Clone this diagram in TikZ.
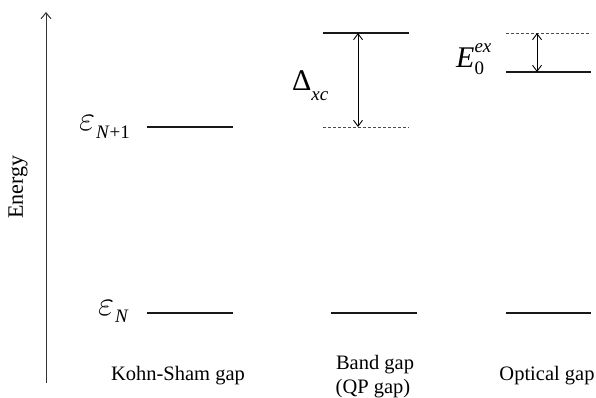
\documentclass[tikz,border=0pt]{standalone}
\usepackage{fontspec}
\setmainfont{Liberation Serif}
\usetikzlibrary{arrows.meta}
\tikzset{
  level/.style={line width=1.9pt, black!90},
  ghost/.style={line width=0.7pt, dashed, dash pattern=on 3pt off 2pt, black!70},
  gaparrow/.style={line width=0.9pt, {Straight Barb[length=6pt,width=9pt]}-{Straight Barb[length=6pt,width=9pt]}},
  axis/.style={line width=1pt, black!80, -{Straight Barb[length=6pt,width=10pt]}},
  lbl/.style={font=\fontsize{20.5}{24}\selectfont, inner sep=0pt},
  sym/.style={font=\fontsize{30}{32}\selectfont, inner sep=0pt}
}
\newcommand{\subsz}{\fontsize{19}{19}\selectfont}
\newcommand{\epsglyph}{\resizebox{16pt}{!}{$\varepsilon$}\hspace{1pt}}
\begin{document}
\begin{tikzpicture}[x=1pt,y=-1pt]
\useasboundingbox (0,0) rectangle (596,397);
% axis
\coordinate (ax0) at (46,383);
\coordinate (ax1) at (46,12);
\draw[axis] (ax0) -- (ax1);
\node[lbl, rotate=90, font=\fontsize{22}{24}\selectfont] (energy) at (18,187) {Energy};
% Kohn-Sham levels
\coordinate (ksT1) at (147,127); \coordinate (ksT2) at (233,127);
\coordinate (ksB1) at (147,313); \coordinate (ksB2) at (233,313);
\draw[level] (ksT1) -- (ksT2);
\draw[level] (ksB1) -- (ksB2);
% Band gap levels
\coordinate (bgT1) at (323,33); \coordinate (bgT2) at (409,33);
\coordinate (bgD1) at (323,127); \coordinate (bgD2) at (409,127);
\coordinate (bgB1) at (331,313); \coordinate (bgB2) at (417,313);
\draw[level] (bgT1) -- (bgT2);
\draw[ghost] (bgD1) -- (bgD2);
\draw[level] (bgB1) -- (bgB2);
\coordinate (bgA1) at (358,33); \coordinate (bgA2) at (358,127);
\draw[gaparrow] (bgA1) -- (bgA2);
% Optical levels
\coordinate (opD1) at (506,33); \coordinate (opD2) at (591,33);
\coordinate (opT1) at (506,72); \coordinate (opT2) at (591,72);
\coordinate (opB1) at (506,313); \coordinate (opB2) at (591,313);
\draw[ghost] (opD1) -- (opD2);
\draw[level] (opT1) -- (opT2);
\draw[level] (opB1) -- (opB2);
\coordinate (opA1) at (537,33); \coordinate (opA2) at (537,72);
\draw[gaparrow] (opA1) -- (opA2);
% symbols
\node[sym, anchor=base east] (epsN1) at (130,130) {\epsglyph\raisebox{-8pt}{\subsz\textit{N}+1}};
\node[sym, anchor=base east] (epsN) at (129,315) {\epsglyph\raisebox{-7pt}{\subsz\textit{N}}};
\node[sym, anchor=base west] (dxc) at (292,90) {Δ\raisebox{-10pt}{\subsz\textit{xc}}};
\node[sym, anchor=base west] (e0) at (456,67) {\textit{E}\rlap{\raisebox{15pt}{\subsz\textit{ex}}}\raisebox{-7pt}{\subsz 0}\phantom{\subsz\textit{ex}}};
% bottom labels
\node[lbl, anchor=base] (ks) at (178,380) {Kohn-Sham gap};
\node[lbl, anchor=base] (bg1) at (375,369) {Band gap};
\node[lbl, anchor=base] (bg2) at (373,393) {(QP gap)};
\node[lbl, anchor=base] (og) at (547,380) {Optical gap};
\end{tikzpicture}
\end{document}
